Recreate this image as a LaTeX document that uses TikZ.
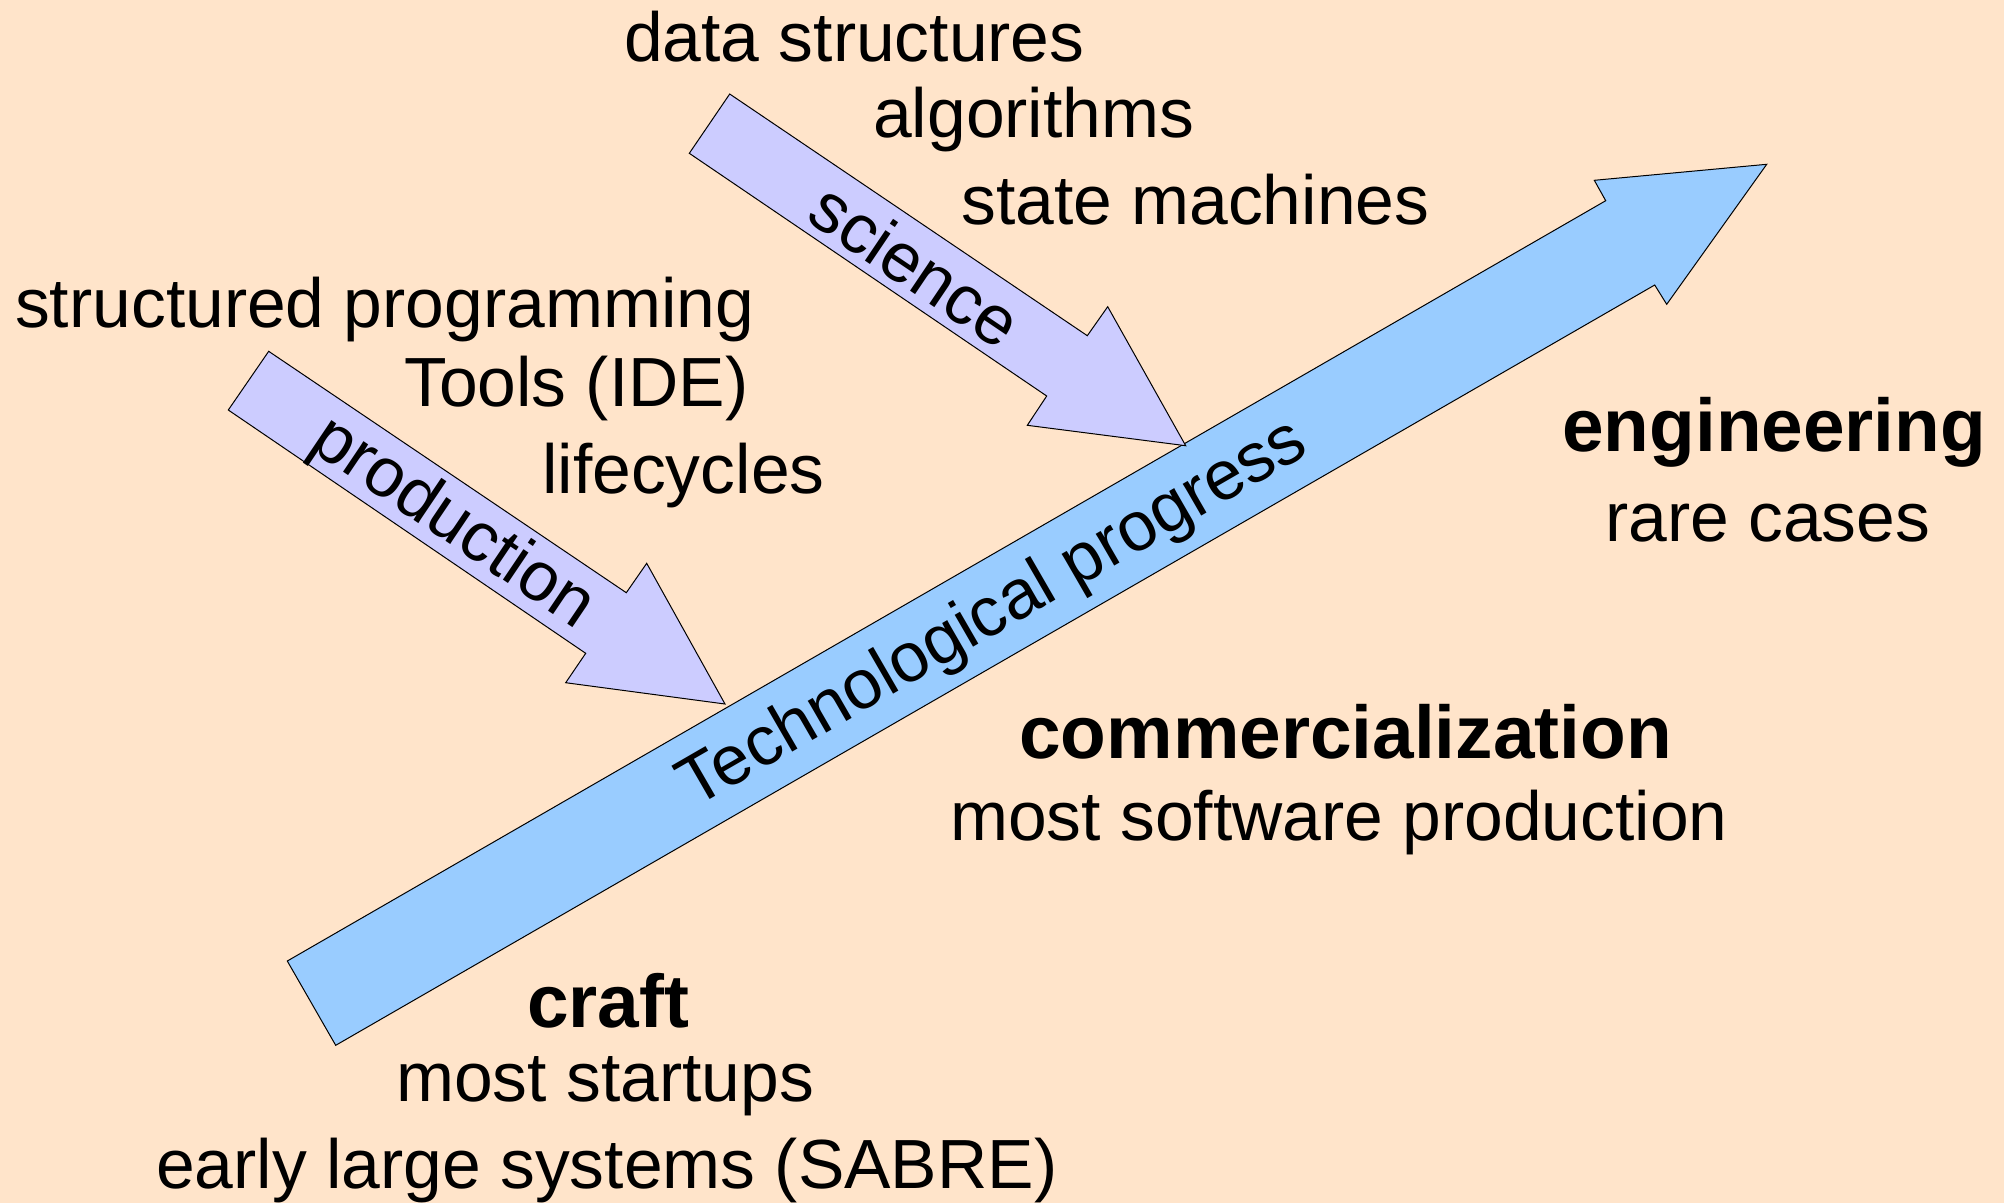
\documentclass[tikz,border=0pt]{standalone}
\usepackage{fontspec}
\setmainfont{Liberation Sans}
\definecolor{bgpeach}{RGB}{255,228,202}
\definecolor{sidearrow}{RGB}{204,204,255}
\definecolor{mainarrow}{RGB}{153,204,255}
\tikzset{
  blockarrow/.style={draw=black, line width=1pt, line join=miter},
  txt/.style={inner sep=0pt, anchor=base west, font=\fontsize{69.6}{80}\selectfont},
  boldtxt/.style={inner sep=0pt, anchor=base west, font=\fontsize{74.8}{86}\selectfont\bfseries},
  arrowlabel/.style={inner sep=0pt, font=\fontsize{69.6}{80}\selectfont}
}
\begin{document}
\begin{tikzpicture}[x=1pt,y=-1pt]
\fill[bgpeach] (0,0) rectangle (2004,1203);
\useasboundingbox (0,0) rectangle (2004,1203);
% main arrow
\draw[blockarrow, fill=mainarrow]
  (287.3,961) -- (1605.7,200.7) -- (1594.3,180.3) -- (1766.7,164.3)
  -- (1666.7,304.3) -- (1654.7,285) -- (335.7,1045.3) -- cycle;
% science arrow
\draw[blockarrow, fill=sidearrow]
  (729.7,94) -- (1087.3,335.7) -- (1107.7,306.7) -- (1185.7,445.7)
  -- (1027.3,425.3) -- (1046.7,396) -- (689.3,153.3) -- cycle;
% production arrow
\draw[blockarrow, fill=sidearrow]
  (268.7,351.3) -- (626.3,592.7) -- (646.7,563.3) -- (725,704)
  -- (565.7,682.7) -- (585.7,653.3) -- (228.3,410) -- cycle;
% arrow labels
\node[arrowlabel, rotate=-34] (sci) at (916,265) {science};
\node[arrowlabel, rotate=-34] (prod) at (452,524) {production};
\node[arrowlabel, rotate=30] (tech) at (994,615) {Technological progress};
% texts
\node[txt] (ds) at (624,61) {data structures};
\node[txt] (alg) at (873,137) {algorithms};
\node[txt] (sm) at (961,224) {state machines};
\node[txt] (sp) at (15,327) {structured programming};
\node[txt] (tools) at (404,406) {Tools (IDE)};
\node[txt] (life) at (542,493) {lifecycles};
\node[boldtxt] (eng) at (1562,451) {engineering};
\node[txt] (rare) at (1605,541) {rare cases};
\node[boldtxt] (comm) at (1019,758) {commercialization};
\node[txt] (msp) at (950,840) {most software production};
\node[boldtxt] (craft) at (527,1027) {craft};
\node[txt] (ms) at (396,1101) {most startups};
\node[txt] (early) at (156,1188) {early large systems (SABRE)};
\end{tikzpicture}
\end{document}
